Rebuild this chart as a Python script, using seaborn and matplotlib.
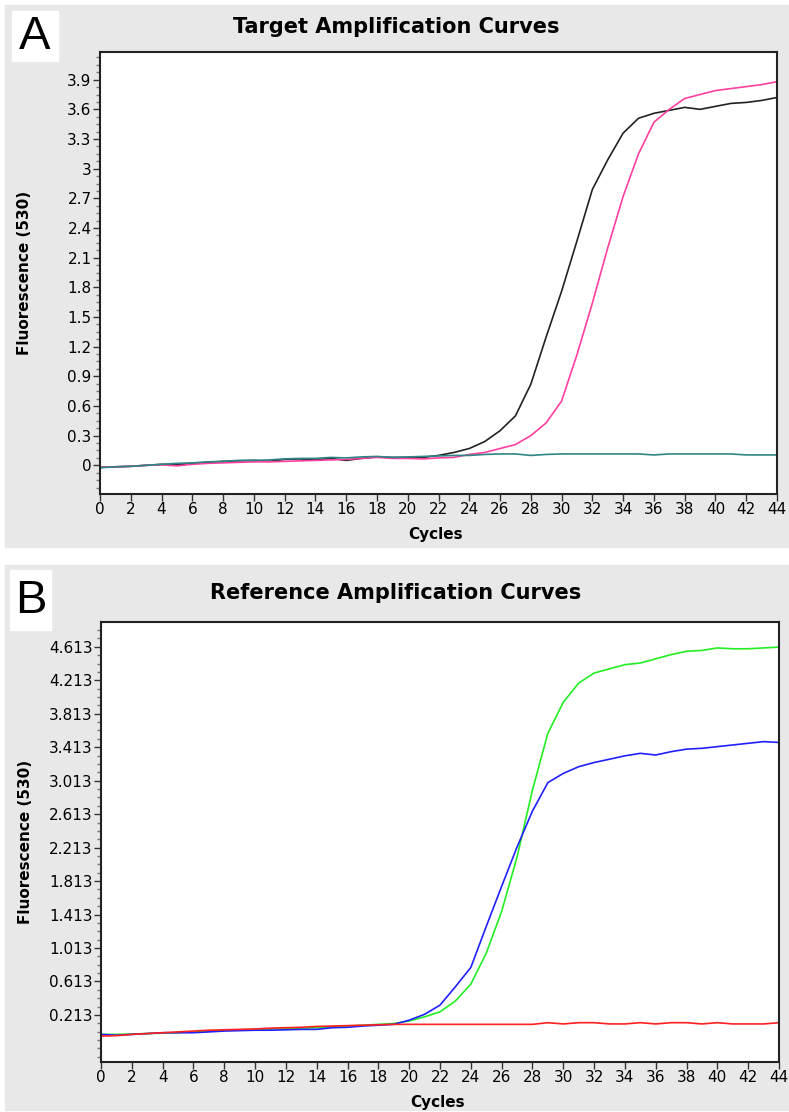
import numpy as np
import pandas as pd
import seaborn as sns
import matplotlib.pyplot as plt
from matplotlib.patches import Rectangle
from matplotlib.ticker import AutoMinorLocator, FixedLocator

# cycles 0..44
cycles = list(range(45))

# panel A - target
target_black = [-0.02, -0.015, -0.01, 0.0, 0.01, 0.005, 0.02, 0.03, 0.04, 0.045,
                0.05, 0.04, 0.06, 0.065, 0.055, 0.07, 0.05, 0.07, 0.085, 0.08,
                0.08, 0.08, 0.10, 0.13, 0.17, 0.24, 0.35, 0.50, 0.82, 1.30,
                1.76, 2.27, 2.79, 3.09, 3.36, 3.51, 3.56, 3.59, 3.62, 3.60,
                3.63, 3.66, 3.67, 3.69, 3.72]
target_pink = [-0.02, -0.015, -0.01, 0.0, 0.005, -0.005, 0.01, 0.02, 0.025, 0.03,
               0.035, 0.035, 0.04, 0.045, 0.05, 0.055, 0.06, 0.07, 0.08, 0.07,
               0.07, 0.065, 0.075, 0.08, 0.11, 0.13, 0.17, 0.21, 0.30, 0.43,
               0.65, 1.12, 1.64, 2.20, 2.72, 3.15, 3.47, 3.60, 3.71, 3.75,
               3.79, 3.81, 3.83, 3.85, 3.88]
target_teal = [-0.025, -0.015, -0.01, 0.0, 0.01, 0.02, 0.025, 0.035, 0.04, 0.05,
               0.05, 0.055, 0.065, 0.07, 0.07, 0.08, 0.075, 0.085, 0.09, 0.08,
               0.085, 0.09, 0.095, 0.10, 0.10, 0.11, 0.115, 0.115, 0.10, 0.11,
               0.115, 0.115, 0.115, 0.115, 0.115, 0.115, 0.105, 0.115, 0.115, 0.115,
               0.115, 0.115, 0.105, 0.105, 0.105]

# panel B - reference
ref_green = [-0.02, -0.02, -0.015, -0.01, -0.005, 0.0, 0.01, 0.02, 0.03, 0.035,
             0.04, 0.045, 0.05, 0.055, 0.06, 0.07, 0.08, 0.09, 0.10, 0.11,
             0.14, 0.19, 0.25, 0.38, 0.58, 0.95, 1.45, 2.10, 2.90, 3.58,
             3.95, 4.18, 4.30, 4.35, 4.40, 4.42, 4.47, 4.52, 4.56, 4.57,
             4.60, 4.59, 4.59, 4.60, 4.61]
ref_blue = [-0.02, -0.03, -0.02, -0.01, 0.0, 0.0, 0.0, 0.01, 0.02, 0.025,
            0.03, 0.03, 0.035, 0.04, 0.04, 0.06, 0.065, 0.08, 0.09, 0.10,
            0.15, 0.22, 0.33, 0.55, 0.78, 1.27, 1.75, 2.22, 2.65, 2.99,
            3.10, 3.18, 3.23, 3.27, 3.31, 3.34, 3.32, 3.36, 3.39, 3.40,
            3.42, 3.44, 3.46, 3.48, 3.47]
ref_red = [-0.04, -0.035, -0.02, -0.01, 0.0, 0.01, 0.02, 0.03, 0.035, 0.04,
           0.045, 0.055, 0.06, 0.065, 0.075, 0.08, 0.085, 0.09, 0.095, 0.10,
           0.10, 0.10, 0.10, 0.10, 0.10, 0.10, 0.10, 0.10, 0.10, 0.12,
           0.105, 0.12, 0.12, 0.105, 0.105, 0.12, 0.105, 0.12, 0.12, 0.105,
           0.12, 0.105, 0.105, 0.105, 0.12]

yticks_a = [round(0.3 * i, 1) for i in range(14)]
yticks_b = [round(0.213 + 0.4 * i, 3) for i in range(12)]
xticks = list(range(0, 45, 2))

sns.set_style("ticks")
plt.rcParams['font.family'] = ['DejaVu Sans']
plt.rcParams['text.color'] = 'black'
plt.rcParams['xtick.color'] = '#333333'
plt.rcParams['ytick.color'] = '#333333'
plt.rcParams['xtick.labelcolor'] = 'black'
plt.rcParams['ytick.labelcolor'] = 'black'
plt.rcParams['axes.labelcolor'] = 'black'

W, H = 789, 1112
fig = plt.figure(figsize=(W / 100, H / 100), dpi=100)
fig.patch.set_facecolor("white")


# grey panel backgrounds + letter boxes (pixel -> figure fraction)
def px_rect(x0, y0, x1, y1, color):
    fig.patches.append(Rectangle((x0 / W, 1 - y1 / H), (x1 - x0) / W, (y1 - y0) / H,
                                 transform=fig.transFigure, color=color, zorder=-5))


px_rect(5, 5, 789, 547, "#e8e8e8")
px_rect(5, 565, 789, 1110, "#e8e8e8")
px_rect(12, 11, 58, 61, "white")
px_rect(10, 570, 51, 630, "white")


def make_panel(rect, series, order, palette, ylim, yticks, ylabels, title, letter,
               title_y, letter_x, letter_y):
    ax = fig.add_axes(rect)
    df = pd.DataFrame({"Cycles": cycles * len(order),
                       "F": sum([series[k] for k in order], []),
                       "s": sum([[k] * len(cycles) for k in order], [])})
    sns.lineplot(data=df, x="Cycles", y="F", hue="s", hue_order=order,
                 palette=palette, linewidth=1.2, legend=False, ax=ax)
    ax.set_xlim(0, 44)
    ax.set_ylim(*ylim)
    ax.set_xticks(xticks)
    ax.yaxis.set_major_locator(FixedLocator(yticks))
    ax.set_yticklabels(ylabels)
    ax.yaxis.set_minor_locator(AutoMinorLocator(4))
    ax.tick_params(axis="both", which="major", length=5, width=1,
                   labelsize=11, pad=1)
    ax.tick_params(axis="y", which="minor", length=3, width=1, color="#777777")
    for sp in ax.spines.values():
        sp.set_visible(True)
        sp.set_color("#222222")
        sp.set_linewidth(1.5)
    ax.set_facecolor("white")
    ax.set_xlabel("Cycles", fontweight="bold", fontsize=11)
    ax.set_ylabel("Fluorescence (530)", fontweight="bold", fontsize=11)
    ax.xaxis.set_label_coords(0.496, -0.075)
    ax.yaxis.set_label_coords(-0.100, 0.5)
    fig.text(396 / W, 1 - title_y / H, title, ha="center", va="center",
             fontsize=15, fontweight="bold")
    fig.text(letter_x / W, 1 - letter_y / H, letter, ha="center", va="center",
             fontsize=34, family="Liberation Sans")
    return ax


make_panel([100 / W, 1 - 494 / H, 677 / W, 442 / H],
           {"black": target_black, "pink": target_pink, "teal": target_teal},
           ["black", "pink", "teal"],
           {"black": "#222222", "pink": "#ff3fa0", "teal": "#2f8585"},
           (-0.29, 4.18), yticks_a, [f"{v:g}" for v in yticks_a],
           "Target Amplification Curves", "A", 27, 35, 37)

make_panel([101 / W, 1 - 1062 / H, 678 / W, 440 / H],
           {"green": ref_green, "blue": ref_blue, "red": ref_red},
           ["green", "blue", "red"],
           {"green": "#22ee22", "blue": "#2020ff", "red": "#ff2020"},
           (-0.35, 4.91), yticks_b, [f"{v:.3f}" for v in yticks_b],
           "Reference Amplification Curves", "B", 593, 31, 601)

fig.savefig("out.png", dpi=100, facecolor=fig.get_facecolor())
